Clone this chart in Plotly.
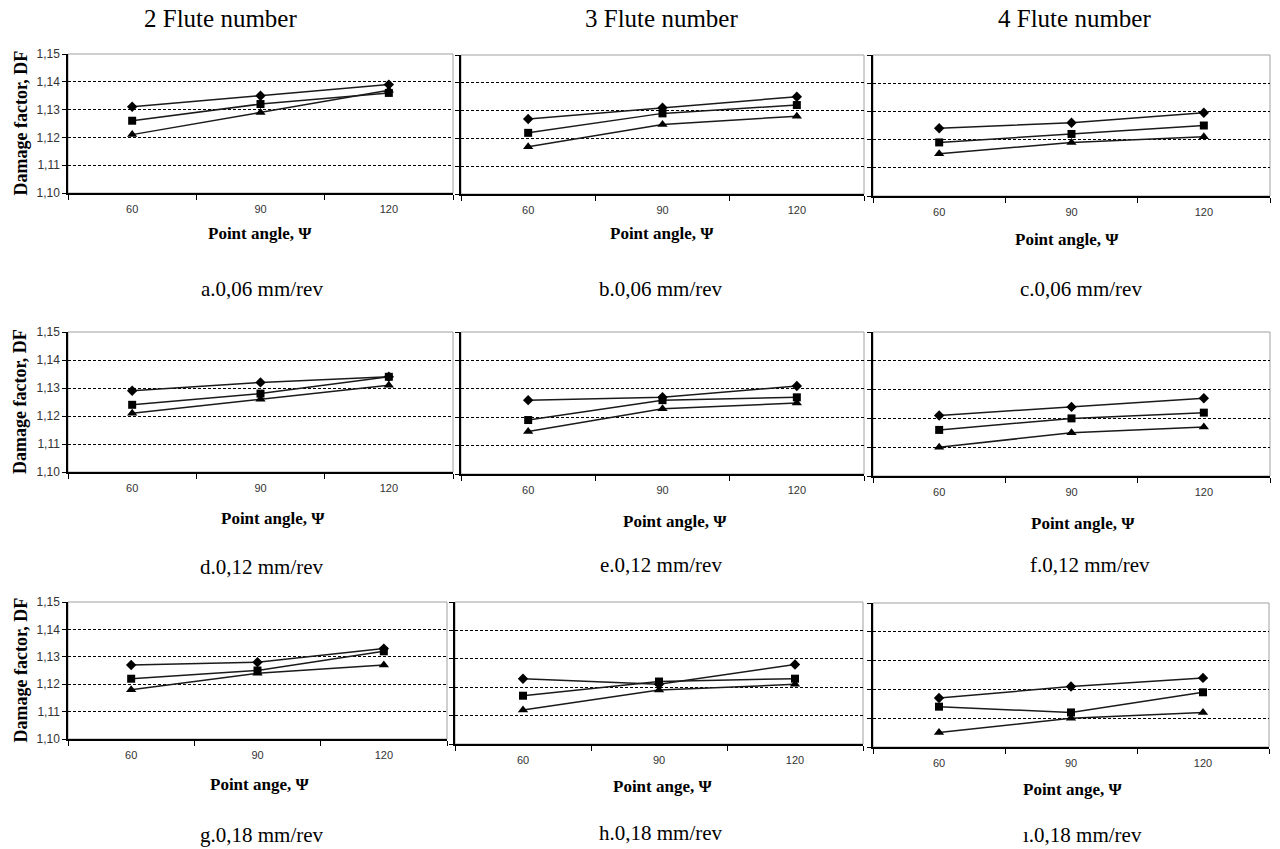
import plotly.graph_objects as go

# ---------------- data ----------------
angles = ["60", "90", "120"]
flute_headers = ["2 Flute number", "3 Flute number", "4 Flute number"]
panel_captions = ["a.0,06 mm/rev", "b.0,06 mm/rev", "c.0,06 mm/rev",
                  "d.0,12 mm/rev", "e.0,12 mm/rev", "f.0,12 mm/rev",
                  "g.0,18 mm/rev", "h.0,18 mm/rev", "ı.0,18 mm/rev"]
x_titles = ["Point angle, Ψ"] * 6 + ["Point ange, Ψ"] * 3
y_title = "Damage factor, DF"
y_ticks = [1.10, 1.11, 1.12, 1.13, 1.14, 1.15]

diamond = [
    [1.131, 1.135, 1.139],
    [1.127, 1.131, 1.135],
    [1.124, 1.126, 1.1295],
    [1.129, 1.132, 1.134],
    [1.126, 1.127, 1.131],
    [1.121, 1.124, 1.127],
    [1.127, 1.128, 1.133],
    [1.123, 1.121, 1.128],
    [1.117, 1.121, 1.124],
]
square = [
    [1.126, 1.132, 1.136],
    [1.122, 1.129, 1.132],
    [1.119, 1.122, 1.125],
    [1.124, 1.128, 1.134],
    [1.119, 1.126, 1.127],
    [1.116, 1.120, 1.122],
    [1.122, 1.125, 1.132],
    [1.117, 1.122, 1.123],
    [1.114, 1.112, 1.119],
]
triangle = [
    [1.121, 1.129, 1.137],
    [1.117, 1.125, 1.128],
    [1.115, 1.119, 1.121],
    [1.121, 1.126, 1.131],
    [1.115, 1.123, 1.125],
    [1.110, 1.115, 1.117],
    [1.118, 1.124, 1.127],
    [1.112, 1.119, 1.121],
    [1.105, 1.110, 1.112],
]

# ---------------- layout geometry (pixels) ----------------
W, H = 1280, 849
# (left, right, top, bottom) of each plot area
boxes = [
    (68, 453, 54, 193), (461, 864, 55, 194), (873, 1270, 55, 196),
    (68, 453, 332, 472), (461, 864, 332, 474), (873, 1270, 332, 476),
    (68, 447, 602, 739), (455, 863, 602, 744), (873, 1269, 603, 747),
]
xtitle_pos = [(260, 234), (662, 234), (1067, 239),
              (273, 518), (675, 521), (1083, 523),
              (259, 784), (662, 786), (1072, 789)]
caption_pos = [(262, 289), (661, 289), (1081, 289),
               (262, 567), (661, 565), (1090, 565),
               (262, 835), (661, 833), (1082, 835)]
header_pos = [(220, 18), (661, 18), (1074, 18)]

SERIF = "Liberation Serif"
SANS = "Liberation Sans"


def px_x(v):
    return v / W


def px_y(v):
    return 1 - v / H


fig = go.Figure()
layout = dict(
    width=W, height=H,
    margin=dict(l=0, r=0, t=0, b=0, pad=0, autoexpand=False),
    paper_bgcolor="white", plot_bgcolor="white", showlegend=False,
    separators=", ",
)
shapes = []
annotations = []

series = [("diamond", diamond, 8), ("square", square, 8), ("triangle-up", triangle, 9)]

for i in range(9):
    n = i + 1
    xa = "x" if n == 1 else f"x{n}"
    ya = "y" if n == 1 else f"y{n}"
    l, r, t, b = boxes[i]
    for sym, data, size in series:
        fig.add_trace(go.Scatter(
            x=angles, y=data[i], mode="lines+markers",
            xaxis=xa, yaxis=ya,
            line=dict(color="#1a1a1a", width=1.5),
            marker=dict(symbol=sym, size=size, color="black"),
            hoverinfo="x+y",
        ))
    col = i % 3
    layout[f"xaxis{'' if n == 1 else n}"] = dict(
        domain=[px_x(l), px_x(r)], anchor=ya, type="category",
        categoryorder="array", categoryarray=angles,
        range=[-0.5, 2.5], tickson="boundaries", ticks="outside",
        ticklen=5, tickcolor="black", showline=True, linecolor="black",
        linewidth=1.5, showgrid=False, zeroline=False,
        ticklabelstandoff=5,
        tickfont=dict(family=SANS, size=11, color="#333"),
        fixedrange=True, automargin=False,
    )
    layout[f"yaxis{'' if n == 1 else n}"] = dict(
        domain=[px_y(b), px_y(t)], anchor=xa, range=[1.10, 1.15],
        tickvals=y_ticks, tickformat=".2f", ticks="outside", ticklen=4,
        tickcolor="black", showline=True, linecolor="black", linewidth=1.5,
        showgrid=True, gridcolor="black", gridwidth=1, griddash="3px,2px",
        zeroline=False, showticklabels=(col == 0),
        tickfont=dict(family=SANS, size=12, color="#333"),
        fixedrange=True, automargin=False,
    )
    # grey plot-area border
    shapes.append(dict(type="rect", xref=f"{xa} domain", yref=f"{ya} domain",
                       x0=0, x1=1, y0=0, y1=1, layer="below",
                       line=dict(color="#a0a0a0", width=1)))
    tx, ty = xtitle_pos[i]
    annotations.append(dict(text=f"<b>{x_titles[i]}</b>", x=px_x(tx), y=px_y(ty),
                            xref="paper", yref="paper", showarrow=False,
                            xanchor="center", yanchor="middle",
                            font=dict(family=SERIF, size=17, color="black")))
    cx, cy = caption_pos[i]
    annotations.append(dict(text=panel_captions[i], x=px_x(cx), y=px_y(cy),
                            xref="paper", yref="paper", showarrow=False,
                            xanchor="center", yanchor="middle",
                            font=dict(family=SERIF, size=21, color="black")))
    if col == 0:
        annotations.append(dict(text=f"<b>{y_title}</b>", x=px_x(20),
                                y=px_y((t + b) / 2), xref="paper", yref="paper",
                                showarrow=False, textangle=-90,
                                xanchor="center", yanchor="middle",
                                font=dict(family=SERIF, size=18, color="black")))

for k in range(3):
    hx, hy = header_pos[k]
    annotations.append(dict(text=flute_headers[k], x=px_x(hx), y=px_y(hy),
                            xref="paper", yref="paper", showarrow=False,
                            xanchor="center", yanchor="middle",
                            font=dict(family=SERIF, size=25, color="black")))

layout["shapes"] = shapes
layout["annotations"] = annotations
fig.update_layout(**layout)
fig.write_html("out.html", config={"displayModeBar": False},
               post_script="document.body.style.margin='0px';document.body.style.overflow='hidden';")
